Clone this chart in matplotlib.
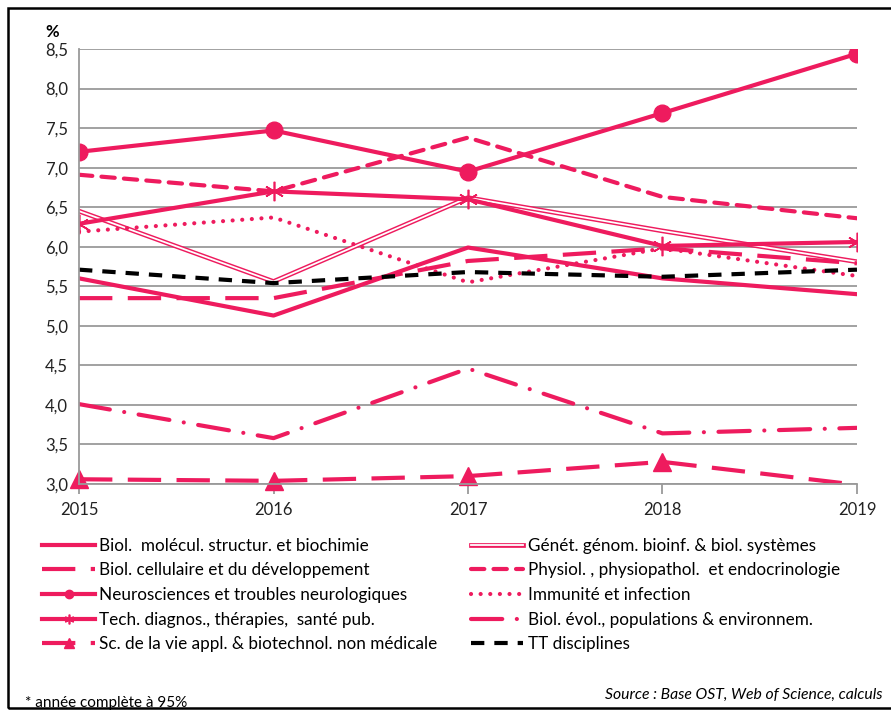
import numpy as np
import matplotlib.pyplot as plt
import matplotlib.patheffects as pe
from matplotlib.ticker import FuncFormatter

plt.rcParams['font.family'] = ['Lato', 'DejaVu Sans']

# -------- data (% share per year) --------
years = [2015, 2016, 2017, 2018, 2019]
year_labels = ["2015", "2016", "2017", "2018", "2019"]

biol_molecul = [5.60, 5.13, 5.99, 5.60, 5.40]
genet = [6.45, 5.56, 6.62, 6.20, 5.81]
biol_cell = [5.35, 5.35, 5.82, 5.98, 5.79]
physiol = [6.91, 6.70, 7.38, 6.63, 6.36]
neuro = [7.20, 7.47, 6.95, 7.69, 8.44]
immunite = [6.19, 6.37, 5.55, 5.98, 5.63]
tech_diag = [6.29, 6.70, 6.60, 6.01, 6.06]
biol_evol = [4.01, 3.58, 4.46, 3.64, 3.71]
sc_vie_appl = [3.06, 3.04, 3.10, 3.28, 2.99]
tt_disc = [5.71, 5.54, 5.68, 5.62, 5.71]

labels = {
    "molecul": "Biol.  molécul. structur. et biochimie",
    "genet": "Génét. génom. bioinf. & biol. systèmes",
    "cell": "Biol. cellulaire et du développement",
    "physiol": "Physiol. , physiopathol.  et endocrinologie",
    "neuro": "Neurosciences et troubles neurologiques",
    "immun": "Immunité et infection",
    "tech": "Tech. diagnos., thérapies,  santé pub.",
    "evol": "Biol. évol., populations & environnem.",
    "scvie": "Sc. de la vie appl. & biotechnol. non médicale",
    "tt": "TT disciplines",
}

PINK = "#EE1B5E"
LW = 3.0

fig = plt.figure(figsize=(8.91, 7.10), dpi=100)
ax = fig.add_axes([0.0887, 0.3183, 0.8731, 0.6127])

h = {}
h["molecul"], = ax.plot(years, biol_molecul, color=PINK, lw=LW)

# double line: white core stroked with pink
h["genet"], = ax.plot(years, genet, color="white", lw=1.3,
                      path_effects=[pe.Stroke(linewidth=3.4, foreground=PINK), pe.Normal()])

h["cell"], = ax.plot(years, biol_cell, color=PINK, lw=LW, dashes=(8, 3.7))
h["physiol"], = ax.plot(years, physiol, color=PINK, lw=LW, dashes=(3.2, 2.2),
                        dash_capstyle='round')
h["neuro"], = ax.plot(years, neuro, color=PINK, lw=LW, marker='o', markersize=12)
h["immun"], = ax.plot(years, immunite, color=PINK, lw=LW, dashes=(0.01, 2.3),
                      dash_capstyle='round')
h["tech"], = ax.plot(years, tech_diag, color=PINK, lw=LW, marker=(6, 2, 0),
                     markersize=14, markeredgewidth=1.2, markeredgecolor=PINK)
h["evol"], = ax.plot(years, biol_evol, color=PINK, lw=LW,
                     dashes=(7.5, 3.5, 0.01, 3.5), dash_capstyle='round')
h["scvie"], = ax.plot(years, sc_vie_appl, color=PINK, lw=LW, dashes=(8, 3.7),
                      marker='^', markersize=13, markevery=[0, 1, 2, 3], clip_on=False)
h["tt"], = ax.plot(years, tt_disc, color="black", lw=LW, dashes=(3.2, 2.4))

# -------- axes styling --------
ax.set_xlim(2015, 2019)
ax.set_ylim(3.0, 8.5)
ax.set_yticks(np.arange(3.0, 8.51, 0.5))
ax.yaxis.set_major_formatter(FuncFormatter(lambda v, p: f"{v:.1f}".replace(".", ",")))
ax.set_xticks(years)
ax.set_xticklabels(year_labels)
ax.grid(axis='y', color="#9a9a9a", lw=1.3)
ax.set_axisbelow(True)
for s in ["top", "right"]:
    ax.spines[s].set_visible(False)
for s in ["left", "bottom"]:
    ax.spines[s].set_color("#9a9a9a")
    ax.spines[s].set_linewidth(1.3)
ax.tick_params(axis='y', length=0, labelsize=12, pad=8, colors="#222222")
ax.tick_params(axis='x', length=7, width=1.3, color="#9a9a9a", direction='out',
               labelsize=12, pad=6, labelcolor="#222222")
ax.text(-0.035, 1.02, "%", transform=ax.transAxes, fontsize=12, fontweight='bold',
        ha='center', va='bottom')

# -------- legend (two columns) --------
order = ["molecul", "cell", "neuro", "tech", "scvie",
         "genet", "physiol", "immun", "evol", "tt"]
leg = fig.legend([h[k] for k in order], [labels[k] for k in order],
                 loc='upper left', bbox_to_anchor=(0.04, 0.252), ncol=2,
                 frameon=False, fontsize=12.3, handlelength=3.05, handletextpad=0.25,
                 labelspacing=0.5, columnspacing=2.0, markerscale=0.5,
                 borderaxespad=0.0)

fig.text(0.028, 0.0, "* année complète à 95%", fontsize=11, ha='left', va='bottom')
fig.text(0.991, 0.012, "Source : Base OST, Web of Science, calculs", fontsize=11.3,
         style='italic', ha='right', va='bottom')

# outer frame
fig.add_artist(plt.Rectangle((0.009, 0.003), 1.2, 0.986, transform=fig.transFigure,
                             fill=False, edgecolor="black", lw=1.8))

fig.savefig("out.png", dpi=100)
